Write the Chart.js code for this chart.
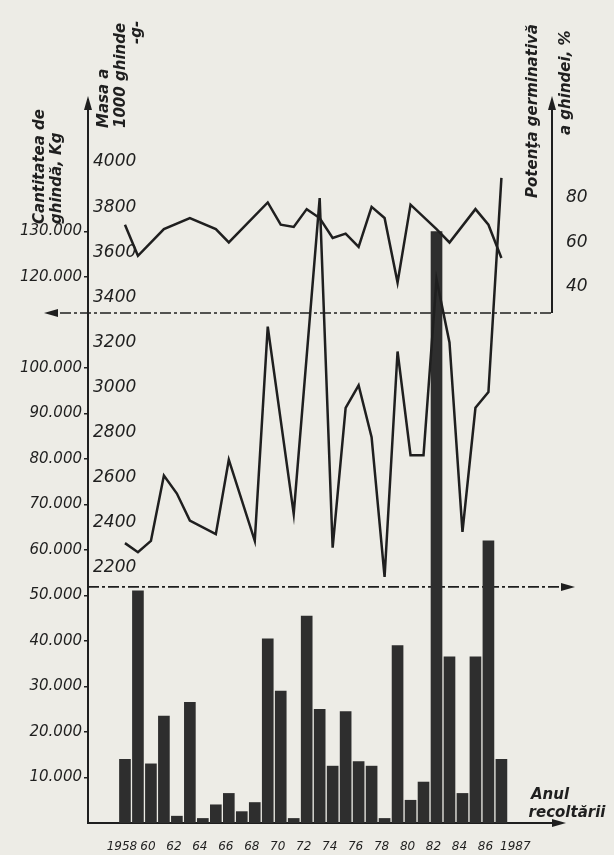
<!DOCTYPE html>
<html lang="ro">
<head>
  <meta charset="UTF-8">
  <title>Ghinda 1958-1987: cantitate, masa si potenta germinativa</title>
  <script src="https://cdn.jsdelivr.net/npm/chart.js"></script>
  <style>
    html, body { margin: 0; padding: 0; background: #edece6; }
    #box { width: 614px; height: 855px; }
  </style>
</head>
<body>
  <div id="box"><canvas id="chart" width="614" height="855"></canvas></div>

  <script>
    // Anii de recoltare
    const years = [1958, 1959, 1960, 1961, 1962, 1963, 1964, 1965, 1966, 1967,
                   1968, 1969, 1970, 1971, 1972, 1973, 1974, 1975, 1976, 1977,
                   1978, 1979, 1980, 1981, 1982, 1983, 1984, 1985, 1986, 1987];
    // Cantitatea de ghinda, kg
    const harvestKg = [14000, 51000, 13000, 23500, 1500, 26500, 1000, 4000, 6500, 2500,
                       4500, 40500, 29000, 1000, 45500, 25000, 12500, 24500, 13500, 12500,
                       1000, 39000, 5000, 9000, 130000, 36500, 6500, 36500, 62000, 14000];

    // Masa a 1000 ghinde, g (numai anii cu determinari)
    const massYears = [1958, 1959, 1960, 1961, 1962, 1963, 1965, 1966, 1968, 1969,
                       1971, 1973, 1974, 1975, 1976, 1977, 1978, 1979, 1980, 1981,
                       1982, 1983, 1984, 1985, 1986, 1987];
    const massGrams = [2310, 2270, 2320, 2610, 2530, 2410, 2350, 2680, 2320, 3270,
                       2440, 3840, 2290, 2910, 3010, 2780, 2160, 3160, 2700, 2700,
                       3480, 3200, 2360, 2910, 2980, 3930];

    // Potenta germinativa a ghindei, %
    const germYears = [1958, 1959, 1961, 1963, 1965, 1966, 1969, 1970, 1971, 1972,
                       1973, 1974, 1975, 1976, 1977, 1978, 1979, 1980, 1982, 1983,
                       1985, 1986, 1987];
    const germPercent = [68, 54, 66, 71, 66, 60, 78, 68, 67, 75,
                         71, 62, 64, 58, 76, 71, 42, 77, 66, 60,
                         75, 68, 53];

    // Etichetele axelor
    const kgTicks = [10000, 20000, 30000, 40000, 50000, 60000, 70000, 80000, 90000, 100000, 120000, 130000];
    const massTicks = [2200, 2400, 2600, 2800, 3000, 3200, 3400, 3600, 3800, 4000];
    const germTicks = [40, 60, 80];
    const yearTicks = [1958, 1960, 1962, 1964, 1966, 1968, 1970, 1972, 1974, 1976, 1978, 1980, 1982, 1984, 1986, 1987];

    const titleKg = ['Cantitatea de', 'ghindă, Kg'];
    const titleMass = ['Masa a', '1000 ghinde', '-g-'];
    const titleGerm = ['Potenţa germinativă', 'a ghindei, %'];
    const titleYear = ['Anul', 'recoltării'];

    const INK = '#1f1f1f';
    const BAR = '#2e2e2e';
    const LETTER = '"DejaVu Sans", sans-serif';

    // where the two broken-axis baselines sit (values on their own scales)
    const GERM_FLOOR = 28.3;
    const MASS_FLOOR = 2116;
    // the closing "1987" is lettered a bit to the right so it clears "86"
    const LAST_LABEL_NUDGE = 1.3;

    function arrowHead(ctx, x, y, dir) {
      const len = 14, half = 4;
      ctx.beginPath();
      ctx.moveTo(x, y);
      if (dir === 'up') { ctx.lineTo(x - half, y + len); ctx.lineTo(x + half, y + len); }
      if (dir === 'left') { ctx.lineTo(x + len, y - half); ctx.lineTo(x + len, y + half); }
      if (dir === 'right') { ctx.lineTo(x - len, y - half); ctx.lineTo(x - len, y + half); }
      ctx.closePath();
      ctx.fill();
    }

    function upText(ctx, str, x, yBottom) {
      ctx.save();
      ctx.translate(x, yBottom);
      ctx.rotate(-Math.PI / 2);
      ctx.textAlign = 'left';
      ctx.textBaseline = 'middle';
      ctx.fillText(str, 0, 0);
      ctx.restore();
    }

    const yearLabel = (v) => (v === 1958 || v === 1987 ? String(v) : String(v).slice(2));

    const frame = {
      id: 'frame',
      beforeDatasetsDraw(chart) {
        const { ctx, chartArea: area, scales } = chart;
        const yTop = scales.yGerm.getPixelForValue(GERM_FLOOR);
        const yMid = scales.yMass.getPixelForValue(MASS_FLOOR);
        ctx.save();
        ctx.strokeStyle = INK;
        ctx.lineWidth = 1.6;
        ctx.setLineDash([11, 3, 3, 3]);
        ctx.beginPath();
        ctx.moveTo(60, yTop); ctx.lineTo(area.right, yTop);
        ctx.moveTo(area.left, yMid); ctx.lineTo(area.right + 10, yMid);
        ctx.stroke();
        ctx.setLineDash([]);
        // right axis only spans the upper panel
        ctx.lineWidth = 2;
        ctx.beginPath();
        ctx.moveTo(area.right, yTop); ctx.lineTo(area.right, area.top);
        // bottom axis runs on a little past the bars
        ctx.moveTo(area.right, area.bottom); ctx.lineTo(area.right + 4, area.bottom);
        ctx.stroke();
        ctx.restore();
      },
      afterDraw(chart) {
        const { ctx, chartArea: area, scales } = chart;
        const yTop = scales.yGerm.getPixelForValue(GERM_FLOOR);
        const yMid = scales.yMass.getPixelForValue(MASS_FLOOR);
        ctx.save();
        ctx.fillStyle = INK;
        arrowHead(ctx, area.left, area.top - 4, 'up');
        arrowHead(ctx, area.right, area.top - 4, 'up');
        arrowHead(ctx, 44, yTop, 'left');
        arrowHead(ctx, area.right + 23, yMid, 'right');
        arrowHead(ctx, area.right + 14, area.bottom, 'right');

        ctx.font = 'italic bold 15px ' + LETTER;
        upText(ctx, titleKg[0], 40, 224);
        upText(ctx, titleKg[1], 57, 224);
        upText(ctx, titleMass[0], 104, 128);
        upText(ctx, titleMass[1], 121, 128);
        upText(ctx, titleMass[2], 137, 44);
        upText(ctx, titleGerm[0], 533, 198);
        upText(ctx, titleGerm[1], 566, 135);

        ctx.textAlign = 'center';
        ctx.textBaseline = 'middle';
        ctx.fillText(titleYear[0], 550, 795);
        ctx.fillText(titleYear[1], 567, 813);
        ctx.restore();
      }
    };

    const tickFont = (size) => ({ family: LETTER, size: size, style: 'italic' });
    const setTicks = (list) => (scale) => { scale.ticks = list.map(v => ({ value: v })); };

    new Chart(document.getElementById('chart'), {
      data: {
        datasets: [
          {
            type: 'bar',
            label: 'Cantitatea de ghindă, Kg',
            data: years.map((y, i) => ({ x: y, y: harvestKg[i] })),
            xAxisID: 'x',
            yAxisID: 'yKg',
            backgroundColor: BAR,
            barThickness: 11,
            order: 3
          },
          {
            type: 'line',
            label: 'Masa a 1000 ghinde, g',
            data: massYears.map((y, i) => ({ x: y, y: massGrams[i] })),
            xAxisID: 'x',
            yAxisID: 'yMass',
            borderColor: INK,
            borderWidth: 2.5,
            pointRadius: 0,
            tension: 0,
            order: 1
          },
          {
            type: 'line',
            label: 'Potenţa germinativă a ghindei, %',
            data: germYears.map((y, i) => ({ x: y, y: germPercent[i] })),
            xAxisID: 'x',
            yAxisID: 'yGerm',
            borderColor: INK,
            borderWidth: 2.5,
            pointRadius: 0,
            tension: 0,
            order: 2
          }
        ]
      },
      options: {
        responsive: false,
        animation: false,
        layout: { padding: { top: 100, left: 0, right: 0, bottom: 0 } },
        plugins: { legend: { display: false }, tooltip: { enabled: false } },
        scales: {
          x: {
            type: 'linear',
            position: 'bottom',
            min: 1956.27,
            max: 1989.78,
            afterBuildTicks: setTicks(yearTicks),
            afterTickToLabelConversion: (s) => {
              const last = s.ticks[s.ticks.length - 1];
              if (last && last.label === '1987') last.value += LAST_LABEL_NUDGE;
            },
            afterFit: (s) => { s.height = 32; },
            grid: { display: true, drawOnChartArea: false, drawTicks: false },
            border: { display: true, color: INK, width: 2 },
            ticks: {
              autoSkip: false, maxRotation: 0, padding: 17, labelOffset: -3,
              color: INK, font: tickFont(12),
              callback: yearLabel
            }
          },
          yKg: {
            type: 'linear',
            position: 'left',
            weight: 1,
            min: 0,
            max: 158900,
            afterBuildTicks: setTicks(kgTicks),
            afterFit: (s) => { s.width = 88; },
            grid: { display: true, drawOnChartArea: false, drawTicks: true, tickLength: 4, color: INK, lineWidth: 1.5 },
            border: { display: true, color: INK, width: 2 },
            ticks: {
              padding: 2, color: INK, font: tickFont(15),
              callback: (v) => (v / 1000) + '.000'
            }
          },
          yMass: {
            type: 'linear',
            position: 'left',
            weight: 0,
            min: 1069,
            max: 4275,
            afterBuildTicks: setTicks(massTicks),
            afterFit: (s) => { s.width = 0; },
            grid: { display: false },
            border: { display: false },
            ticks: {
              mirror: true, padding: 5, color: INK, font: tickFont(17),
              callback: (v) => String(v)
            }
          },
          yGerm: {
            type: 'linear',
            position: 'right',
            min: -200.9,
            max: 124.04,
            afterBuildTicks: setTicks(germTicks),
            afterFit: (s) => { s.width = 62; },
            grid: { display: false },
            border: { display: false },
            ticks: { padding: 6, color: INK, font: tickFont(17) }
          }
        }
      },
      plugins: [frame]
    });
  </script>
</body>
</html>
